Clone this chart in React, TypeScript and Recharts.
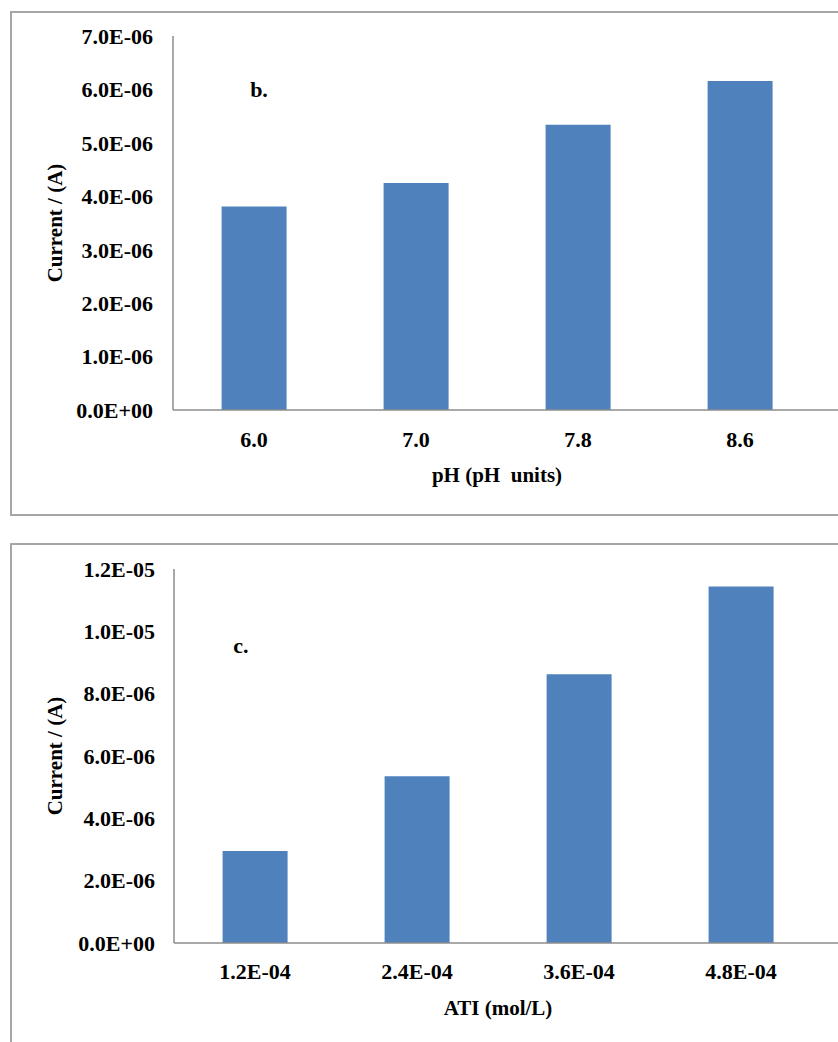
import React from 'react';
import { BarChart, Bar, XAxis, YAxis, ReferenceDot } from 'recharts';

const phCategories = ['6.0', '7.0', '7.8', '8.6'];
const phCurrent = [3.81e-6, 4.25e-6, 5.34e-6, 6.16e-6];
const phTicks = [0, 1e-6, 2e-6, 3e-6, 4e-6, 5e-6, 6e-6, 7e-6];

const atiCategories = ['1.2E-04', '2.4E-04', '3.6E-04', '4.8E-04'];
const atiCurrent = [2.95e-6, 5.35e-6, 8.62e-6, 11.44e-6];
const atiTicks = [0, 2e-6, 4e-6, 6e-6, 8e-6, 1e-5, 1.2e-5];

const yTitle = 'Current / (A)';
const phTitle = 'pH (pH  units)';
const atiTitle = 'ATI (mol/L)';

const phData = phCategories.map((c, i) => ({ cat: c, value: phCurrent[i] }));
const atiData = atiCategories.map((c, i) => ({ cat: c, value: atiCurrent[i] }));

const FONT = "'Liberation Serif', 'Times New Roman', serif";
const BAR = '#4F81BD';
const AXIS = '#8c8c8c';
const FRAME = '#a6a6a6';

function fmtSci(v: number): string {
  if (v === 0) return '0.0E+00';
  const exp = Math.floor(Math.log10(Math.abs(v)) + 1e-9);
  const mant = v / Math.pow(10, exp);
  const sign = exp < 0 ? '-' : '+';
  const e = Math.abs(exp).toString().padStart(2, '0');
  return mant.toFixed(1) + 'E' + sign + e;
}

const tickStyle = { fontFamily: FONT, fontWeight: 'bold' as const, fontSize: 22, fill: '#000' };

function yTitleContent(props: any) {
  const vb = props.viewBox || {};
  const x = 55;
  const y = vb.y + vb.height / 2;
  return (
    <text
      x={x}
      y={y}
      transform={`rotate(-90, ${x}, ${y})`}
      textAnchor="middle"
      dominantBaseline="central"
      style={{ fontFamily: FONT, fontWeight: 'bold', fontSize: 21, fill: '#000' }}
    >
      {yTitle}
    </text>
  );
}

function makeXTitle(text: string, padRight: number) {
  return (props: any) => {
    const vb = props.viewBox || {};
    const x = vb.x + (vb.width - padRight) / 2;
    const y = vb.y + 65;
    return (
      <text
        x={x}
        y={y}
        textAnchor="middle"
        dominantBaseline="central"
        style={{ fontFamily: FONT, fontWeight: 'bold', fontSize: 21, fill: '#000', whiteSpace: 'pre' }}
      >
        {text}
      </text>
    );
  };
}

function makeTag(text: string, dx: number) {
  return (props: any) => {
    const vb = props.viewBox || {};
    const x = vb.x + (vb.width || 0) / 2 + dx;
    const y = vb.y + (vb.height || 0) / 2;
    return (
      <text
        x={x}
        y={y}
        textAnchor="middle"
        dominantBaseline="central"
        style={{ fontFamily: FONT, fontWeight: 'bold', fontSize: 22, fill: '#000' }}
      >
        {text}
      </text>
    );
  };
}

export default function App() {
  return (
    <div
      style={{
        position: 'fixed',
        left: 0,
        top: 0,
        width: 838,
        height: 1042,
        overflow: 'hidden',
        background: '#fff',
      }}
    >
      <div
        style={{
          position: 'absolute',
          left: 10,
          top: 11,
          width: 840,
          height: 505,
          border: `2px solid ${FRAME}`,
          boxSizing: 'border-box',
        }}
      />
      <div style={{ position: 'absolute', left: 0, top: 0 }}>
        <BarChart
          width={838}
          height={515}
          data={phData}
          margin={{ top: 36, right: 0, bottom: 25, left: 0 }}
          barCategoryGap="30%"
        >
          <XAxis
            dataKey="cat"
            height={80}
            padding={{ left: 0, right: 17 }}
            axisLine={{ stroke: AXIS, strokeWidth: 1.5 }}
            tickLine={false}
            tickSize={0}
            tickMargin={21}
            tick={tickStyle}
            interval={0}
            label={{ content: makeXTitle(phTitle, 17) }}
          />
          <YAxis
            width={173}
            domain={[0, 7e-6]}
            ticks={phTicks}
            tickFormatter={fmtSci}
            axisLine={{ stroke: AXIS, strokeWidth: 1.5 }}
            tickLine={false}
            tickSize={0}
            tickMargin={20}
            tick={tickStyle}
            interval={0}
            label={{ content: yTitleContent }}
          />
          <Bar dataKey="value" fill={BAR} isAnimationActive={false} />
          <ReferenceDot
            x="6.0"
            y={6e-6}
            r={0}
            fill="none"
            stroke="none"
            label={{ content: makeTag('b.', 5) }}
          />
        </BarChart>
      </div>

      <div
        style={{
          position: 'absolute',
          left: 10,
          top: 543,
          width: 840,
          height: 520,
          border: `2px solid ${FRAME}`,
          boxSizing: 'border-box',
        }}
      />
      <div style={{ position: 'absolute', left: 0, top: 540 }}>
        <BarChart
          width={838}
          height={502}
          data={atiData}
          margin={{ top: 29, right: 0, bottom: 19, left: 0 }}
          barCategoryGap="30%"
        >
          <XAxis
            dataKey="cat"
            height={80}
            padding={{ left: 0, right: 16 }}
            axisLine={{ stroke: AXIS, strokeWidth: 1.5 }}
            tickLine={false}
            tickSize={0}
            tickMargin={20}
            tick={tickStyle}
            interval={0}
            label={{ content: makeXTitle(atiTitle, 16) }}
          />
          <YAxis
            width={174}
            domain={[0, 1.2e-5]}
            ticks={atiTicks}
            tickFormatter={fmtSci}
            axisLine={{ stroke: AXIS, strokeWidth: 1.5 }}
            tickLine={false}
            tickSize={0}
            tickMargin={19}
            tick={tickStyle}
            interval={0}
            label={{ content: yTitleContent }}
          />
          <Bar dataKey="value" fill={BAR} isAnimationActive={false} />
          <ReferenceDot
            x="1.2E-04"
            y={9.56e-6}
            r={0}
            fill="none"
            stroke="none"
            label={{ content: makeTag('c.', -14) }}
          />
        </BarChart>
      </div>
    </div>
  );
}
